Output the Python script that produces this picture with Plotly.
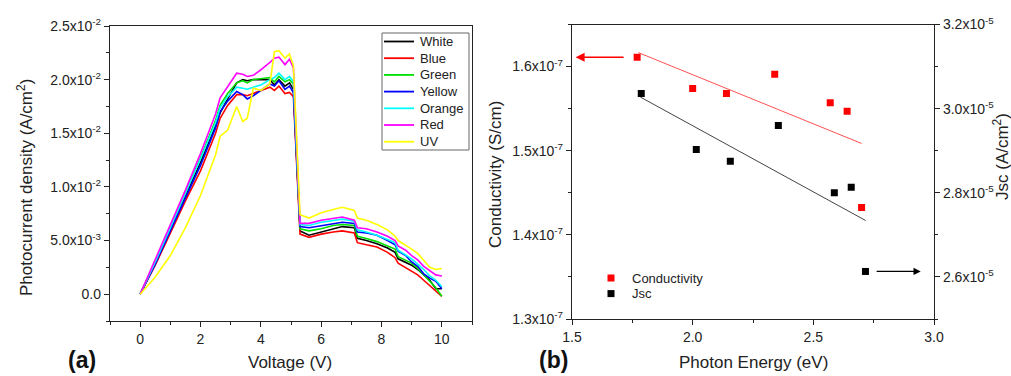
import plotly.graph_objects as go

# ---------------- Panel (a) data ----------------
voltage = [0, 0.5, 1.0, 1.5, 2.0, 2.5, 2.65, 2.9, 3.2, 3.4, 3.55, 3.75, 4.0, 4.3, 4.45, 4.6,
           4.8, 4.95, 5.08, 5.3, 5.6, 6.0, 6.4, 6.7, 7.1, 7.2, 7.5, 7.85, 8.2, 8.45, 8.55,
           8.8, 9.0, 9.2, 9.4, 9.6, 9.8, 10.0]

# photocurrent density in units of 1e-3 A/cm^2
white = [0, 2.9, 6.0, 9.1, 12.3, 15.7, 16.9, 18.2, 19.7, 20.0, 19.9, 20.0, 20.0, 20.0, 19.5, 20.0,
         19.4, 19.7, 19.1, 5.9, 5.5, 5.8, 6.1, 6.3, 6.2, 5.2, 5.0, 4.7, 4.3, 3.9, 3.3,
         3.0, 2.7, 2.3, 1.8, 1.3, 0.5, 0.5]
blue = [0, 2.7, 5.7, 8.7, 11.5, 15.0, 16.4, 17.6, 18.6, 18.6, 18.5, 18.7, 19.0, 19.3, 19.0, 19.4,
        18.7, 18.8, 18.4, 5.6, 5.3, 5.6, 5.8, 5.9, 5.7, 4.8, 4.6, 4.4, 3.9, 3.4, 2.9,
        2.5, 2.1, 1.8, 1.3, 0.8, 0.3, -0.2]
green = [0, 3.0, 6.2, 9.4, 12.7, 16.2, 17.6, 18.7, 19.7, 19.9, 19.7, 20.0, 20.1, 20.2, 19.8, 20.3,
         19.8, 20.0, 19.6, 6.1, 5.9, 6.1, 6.4, 6.5, 6.4, 5.4, 5.2, 4.9, 4.5, 4.2, 3.5,
         3.2, 2.9, 2.4, 1.8, 1.2, 0.6, -0.2]
yellow = [0, 2.8, 5.9, 9.0, 12.0, 15.5, 17.0, 18.0, 18.9, 18.6, 18.2, 18.5, 19.0, 19.6, 19.4, 19.9,
          19.1, 19.4, 18.8, 6.3, 6.2, 6.4, 6.6, 6.7, 6.6, 5.8, 5.7, 5.5, 5.0, 4.6, 4.0,
          3.6, 3.0, 2.6, 1.9, 1.5, 1.2, 0.5]
orange = [0, 3.0, 6.2, 9.4, 12.6, 16.0, 17.4, 18.4, 19.3, 19.2, 19.1, 19.3, 19.5, 20.0, 20.2, 20.6,
          20.0, 20.3, 19.8, 6.5, 6.4, 6.7, 6.9, 7.0, 6.8, 6.0, 5.8, 5.5, 5.1, 4.8, 4.1,
          3.7, 3.3, 2.8, 2.3, 1.7, 1.3, 0.7]
red = [0, 3.2, 6.4, 9.7, 13.1, 16.8, 18.3, 19.3, 20.6, 20.5, 20.3, 20.4, 20.9, 21.6, 22.0, 22.1,
       21.4, 21.9, 21.1, 6.6, 6.6, 6.9, 7.1, 7.2, 6.9, 6.2, 6.1, 5.8, 5.4, 5.0, 4.5,
       4.1, 3.6, 3.2, 2.6, 2.2, 1.8, 1.7]
uv = [0, 1.6, 3.6, 6.2, 9.2, 13.0, 14.7, 15.3, 17.5, 16.1, 16.4, 19.2, 19.0, 19.6, 22.6, 22.7,
      22.0, 22.4, 21.3, 7.4, 7.1, 7.6, 7.9, 8.1, 7.8, 7.1, 6.9, 6.5, 6.0, 5.4, 5.0,
      4.6, 4.2, 3.8, 3.2, 2.5, 2.3, 2.4]

series_names = ["White", "Blue", "Green", "Yellow", "Orange", "Red", "UV"]
series_vals = [white, blue, green, yellow, orange, red, uv]
series_colors = ["#000000", "#ff0000", "#00e000", "#0000ff", "#00ffff", "#ff00ff", "#ffff00"]

left_yticks = [0, 5.0e-3, 1.0e-2, 1.5e-2, 2.0e-2, 2.5e-2]
left_yticktext = ["0.0", "5.0x10<sup>-3</sup>", "1.0x10<sup>-2</sup>", "1.5x10<sup>-2</sup>",
                  "2.0x10<sup>-2</sup>", "2.5x10<sup>-2</sup>"]
left_xticks = [0, 2, 4, 6, 8, 10]

# ---------------- Panel (b) data ----------------
cond_energy = [1.77, 2.00, 2.14, 2.34, 2.57, 2.64, 2.70]
conductivity = [1.611e-7, 1.574e-7, 1.568e-7, 1.591e-7, 1.557e-7, 1.547e-7, 1.4325e-7]
jsc_energy = [1.787, 2.015, 2.156, 2.355, 2.587, 2.657, 2.716]
jsc = [3.036e-5, 2.903e-5, 2.875e-5, 2.960e-5, 2.800e-5, 2.813e-5, 2.613e-5]

cond_fit_x = [1.775, 2.700]
cond_fit_y = [1.6166e-7, 1.5086e-7]
jsc_fit_x = [1.783, 2.717]
jsc_fit_y = [3.0276e-5, 2.734e-5]

right_xticks = [1.5, 2.0, 2.5, 3.0]
cond_ticks = [1.3e-7, 1.4e-7, 1.5e-7, 1.6e-7]
cond_ticktext = ["1.3x10<sup>-7</sup>", "1.4x10<sup>-7</sup>", "1.5x10<sup>-7</sup>", "1.6x10<sup>-7</sup>"]
jsc_ticks = [2.6e-5, 2.8e-5, 3.0e-5, 3.2e-5]
jsc_ticktext = ["2.6x10<sup>-5</sup>", "2.8x10<sup>-5</sup>", "3.0x10<sup>-5</sup>", "3.2x10<sup>-5</sup>"]
legend_b_names = ["Conductivity", "Jsc"]
legend_b_colors = ["#ff0000", "#000000"]

FONT = "Arial, Liberation Sans, sans-serif"
W, H = 1011, 376
TXT = "#222222"


def px(xp):
    return xp / W


def py(yp):
    return 1 - yp / H


fig = go.Figure()

for name, vals, col in zip(series_names, series_vals, series_colors):
    fig.add_trace(go.Scatter(x=voltage, y=[v * 1e-3 for v in vals], mode="lines", name=name,
                             line=dict(color=col, width=1.6), xaxis="x", yaxis="y", showlegend=False))

fig.add_trace(go.Scatter(x=cond_fit_x, y=cond_fit_y, mode="lines", line=dict(color="#ff5050", width=1),
                         showlegend=False, xaxis="x2", yaxis="y2"))
fig.add_trace(go.Scatter(x=jsc_fit_x, y=jsc_fit_y, mode="lines", line=dict(color="#444444", width=1),
                         showlegend=False, xaxis="x2", yaxis="y3"))
fig.add_trace(go.Scatter(x=cond_energy, y=conductivity, mode="markers", name="Conductivity",
                         marker=dict(symbol="square", size=7, color="#ff0000"),
                         xaxis="x2", yaxis="y2", showlegend=False))
fig.add_trace(go.Scatter(x=jsc_energy, y=jsc, mode="markers", name="Jsc",
                         marker=dict(symbol="square", size=7, color="#000000"),
                         xaxis="x2", yaxis="y3", showlegend=False))

axis_common = dict(showline=True, linecolor=TXT, linewidth=1.3, ticks="outside", ticklen=5,
                   tickcolor=TXT, tickwidth=1, showgrid=False, zeroline=False, automargin=False,
                   tickfont=dict(family=FONT, size=14, color=TXT))

dom_a_x = [110 / W, 472 / W]
dom_a_y = [(H - 321) / H, (H - 26) / H]
dom_b_x = [572 / W, 934 / W]
dom_b_y = [(H - 319) / H, (H - 24.5) / H]

fig.update_layout(
    width=W, height=H, autosize=False,
    margin=dict(l=0, r=0, t=0, b=0, pad=0),
    paper_bgcolor="white", plot_bgcolor="white",
    font=dict(family=FONT, size=13, color=TXT),
    showlegend=False,
    xaxis=dict(domain=dom_a_x, range=[-1, 11], tickvals=left_xticks, mirror=True,
               minor=dict(ticks="outside", ticklen=3, dtick=1, tickcolor=TXT),
               anchor="y", **axis_common),
    yaxis=dict(domain=dom_a_y, range=[-0.0025, 0.025], tickvals=left_yticks, ticktext=left_yticktext,
               mirror=True, minor=dict(ticks="outside", ticklen=3, dtick=0.0025, tickcolor=TXT),
               anchor="x", **axis_common),
    xaxis2=dict(domain=dom_b_x, range=[1.5, 3.0], tickvals=right_xticks,
                ticktext=["1.5", "2.0", "2.5", "3.0"], mirror=True,
                minor=dict(ticks="outside", ticklen=3, dtick=0.25, tickcolor=TXT),
                anchor="y2", **axis_common),
    yaxis2=dict(domain=dom_b_y, range=[1.3e-7, 1.65e-7], tickvals=cond_ticks, ticktext=cond_ticktext,
                minor=dict(ticks="outside", ticklen=3, dtick=0.05e-7, tickcolor=TXT),
                anchor="x2", **axis_common),
    yaxis3=dict(domain=dom_b_y, range=[2.5e-5, 3.2e-5], tickvals=jsc_ticks, ticktext=jsc_ticktext,
                overlaying="y2", side="right",
                minor=dict(ticks="outside", ticklen=3, dtick=0.1e-5, tickcolor=TXT),
                anchor="x2", **axis_common),
)

annots = [
    dict(text="Photocurrent density (A/cm<sup>2</sup>)", x=px(25), y=py(188), textangle=-90,
         font=dict(size=17, family=FONT, color=TXT)),
    dict(text="Voltage (V)", x=px(290), y=py(362), font=dict(size=17, family=FONT, color=TXT)),
    dict(text="<b>(a)</b>", x=px(82), y=py(360), font=dict(size=23, family=FONT, color="#111111")),
    dict(text="Conductivity (S/cm)", x=px(495), y=py(175), textangle=-90,
         font=dict(size=17, family=FONT, color=TXT)),
    dict(text="Jsc (A/cm<sup>2</sup>)", x=px(1001), y=py(157), textangle=-90,
         font=dict(size=17, family=FONT, color=TXT)),
    dict(text="Photon Energy (eV)", x=px(753), y=py(362), font=dict(size=17, family=FONT, color=TXT)),
    dict(text="<b>(b)</b>", x=px(553), y=py(360), font=dict(size=23, family=FONT, color="#111111")),
]
for a in annots:
    a.update(xref="paper", yref="paper", showarrow=False, xanchor="center", yanchor="middle")

shapes = []
# legend box for panel (a)
shapes.append(dict(type="rect", xref="paper", yref="paper", x0=px(382), x1=px(469), y0=py(150), y1=py(33),
                   line=dict(color="#666666", width=1), fillcolor="white", layer="above"))
for i, (name, col) in enumerate(zip(series_names, series_colors)):
    yy = 41.5 + i * 16.7
    shapes.append(dict(type="line", xref="paper", yref="paper", x0=px(384), x1=px(414), y0=py(yy), y1=py(yy),
                       line=dict(color=col, width=1.8), layer="above"))
    annots.append(dict(text=name, x=px(418), y=py(yy), xref="paper", yref="paper", showarrow=False,
                       xanchor="left", yanchor="middle", font=dict(size=13, family=FONT, color=TXT)))
# legend for panel (b)
for i, (name, col) in enumerate(zip(legend_b_names, legend_b_colors)):
    yy = 278 + i * 15.6
    shapes.append(dict(type="rect", xref="paper", yref="paper", x0=px(607.5), x1=px(614.5),
                       y0=py(yy + 3.5), y1=py(yy - 3.5), line=dict(width=0), fillcolor=col, layer="above"))
    annots.append(dict(text=name, x=px(630), y=py(yy), xref="paper", yref="paper", showarrow=False,
                       xanchor="left", yanchor="middle", font=dict(size=13, family=FONT, color=TXT)))

# arrows pointing to the axes
annots.append(dict(x=1.515, y=conductivity[0], ax=1.72, ay=conductivity[0], xref="x2", yref="y2",
                   axref="x2", ayref="y2", text="", showarrow=True, arrowhead=2, arrowsize=1.2,
                   arrowwidth=1.5, arrowcolor="#ff0000"))
annots.append(dict(x=2.945, y=jsc[-1], ax=2.756, ay=jsc[-1], xref="x2", yref="y3",
                   axref="x2", ayref="y3", text="", showarrow=True, arrowhead=2, arrowsize=1.2,
                   arrowwidth=1.2, arrowcolor="#000000"))

fig.update_layout(annotations=annots, shapes=shapes)

fig.write_html("out.html", config={"responsive": False, "displayModeBar": False})

# remove the default page margin so the figure sits at the top-left corner
with open("out.html", "r", encoding="utf-8") as f:
    html = f.read()
html = html.replace("<head>", "<head><style>html,body{margin:0;padding:0;overflow:hidden;}</style>", 1)
with open("out.html", "w", encoding="utf-8") as f:
    f.write(html)
